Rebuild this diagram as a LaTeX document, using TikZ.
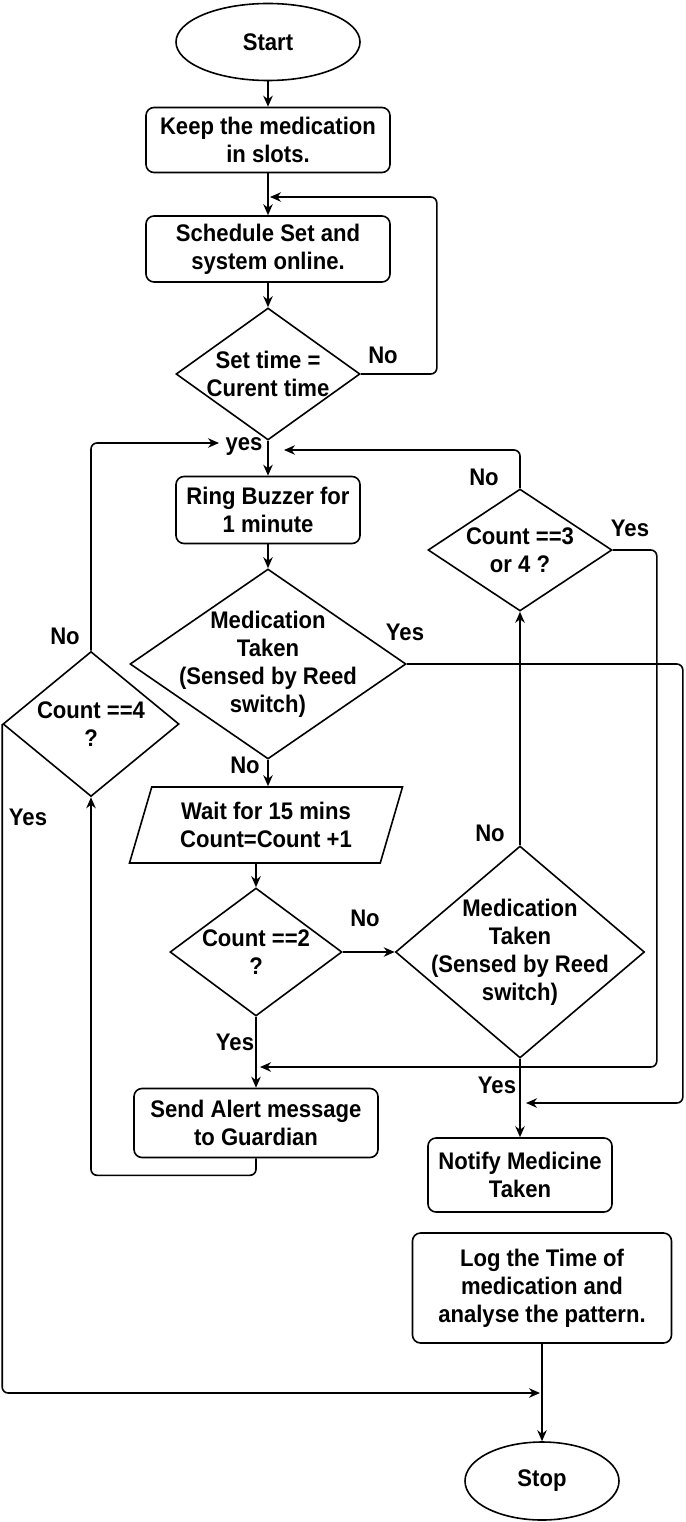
\documentclass[tikz,border=0pt]{standalone}
\usepackage{fontspec}
\setmainfont{Liberation Sans}[FakeStretch=0.92]
\usetikzlibrary{shapes.geometric, arrows.meta, positioning}

\begin{document}
\begin{tikzpicture}[
    x=1pt, y=-1pt,
    every node/.style={font=\fontsize{24}{28}\selectfont\bfseries},
    terminal/.style={draw, ellipse, line width=1.6pt, inner sep=0pt},
    process/.style={draw, rounded corners=8pt, line width=1.6pt, inner sep=0pt, align=center},
    decision/.style={draw, diamond, line width=1.6pt, inner sep=-40pt, align=center},
    io/.style={draw, trapezium, trapezium left angle=64, trapezium right angle=116,
               trapezium stretches body, line width=1.6pt, inner sep=0pt, align=center},
    lbl/.style={inner sep=0pt},
    arr/.style={-{Stealth[length=11pt, width=9.5pt]}, line width=1.6pt, rounded corners=6pt}
]
    \useasboundingbox (0,0) rectangle (685,1522);

    % Main column
    \node[terminal, minimum width=184pt, minimum height=77pt] (start) at (268,42) {Start};
    \node[process, minimum width=244pt, minimum height=65pt] (keep) at (268,140) {Keep the medication\\in slots.};
    \node[process, minimum width=244pt, minimum height=66pt] (sched) at (268,249) {Schedule Set and\\system online.};
    \node[decision, minimum width=184pt, minimum height=132pt] (settime) at (268,374) {Set time =\\Curent time};
    \node[process, minimum width=184pt, minimum height=67pt] (ring) at (268,510) {Ring Buzzer for\\1 minute};
    \node[decision, minimum width=276pt, minimum height=190pt] (med1) at (268,664) {Medication\\Taken\\(Sensed by Reed\\switch)};
    \node[io, minimum width=273pt, minimum height=76pt] (wait) at (266,825) {Wait for 15 mins\\Count=Count +1};
    \node[decision, minimum width=172pt, minimum height=128pt] (cnt2) at (256,952) {Count ==2\\?};
    \node[process, minimum width=244pt, minimum height=69pt] (alert) at (256,1123) {Send Alert message\\to Guardian};

    % Left branch
    \node[decision, minimum width=176pt, minimum height=145pt] (cnt4) at (91,724) {Count ==4\\?};

    % Right branch
    \node[decision, minimum width=184pt, minimum height=122pt] (cnt3) at (520,550) {Count ==3\\or 4 ?};
    \node[decision, minimum width=249pt, minimum height=212pt] (med2) at (520,952) {Medication\\Taken\\(Sensed by Reed\\switch)};
    \node[process, minimum width=184pt, minimum height=74pt] (notify) at (520,1175) {Notify Medicine\\Taken};
    \node[process, minimum width=259pt, minimum height=110pt] (log) at (542,1288) {Log the Time of\\medication and\\analyse the pattern.};
    \node[terminal, minimum width=154pt, minimum height=78pt] (stop) at (542,1481) {Stop};

    % Junctions on the lines
    \coordinate (j0) at (219,443);
    \coordinate (j1) at (270,197);
    \coordinate (j2) at (284,450);
    \coordinate (j3) at (260,1067);
    \coordinate (j4) at (526,1103);
    \coordinate (j5) at (540,1393);

    % Connectors
    \draw[arr] (start) -- (keep);
    \draw[arr] (keep) -- (sched);
    \draw[arr] (sched) -- (settime);
    \draw[arr] (settime.east) -- ++(76,0) |- (j1);
    \draw[arr] (settime) -- (ring);
    \draw[arr] (ring) -- (med1);
    \draw[arr] (med1.south) -- (med1.south |- wait.north);
    \draw[arr] (wait.south -| cnt2.north) -- (cnt2.north);
    \draw[arr] (cnt2) -- (med2);
    \draw[arr] (cnt2) -- (alert);
    \draw[arr] (med2) -- (cnt3);
    \draw[arr] (med2) -- (notify);
    \draw[arr] (cnt3.north) |- (j2);
    \draw[arr] (cnt3.east) -- ++(44,0) |- (j3);
    \draw[arr] (med1.east) -- ++(276,0) |- (j4);
    \draw[arr] (alert.south) -- ++(0,17) -| (cnt4.south);
    \draw[arr] (cnt4.north) |- (j0);
    \draw[arr] (cnt4.west) |- (j5);
    \draw[arr] (log) -- (stop);

    % Labels
    \node[lbl] (l1) at (383,355) {No};
    \node[lbl] (l2) at (244,447) {yes};
    \node[lbl] (l3) at (484,477) {No};
    \node[lbl] (l4) at (630,528) {Yes};
    \node[lbl] (l5) at (405,632) {Yes};
    \node[lbl] (l6) at (65,636) {No};
    \node[lbl] (l7) at (245,765) {No};
    \node[lbl] (l8) at (28,817) {Yes};
    \node[lbl] (l9) at (490,833) {No};
    \node[lbl] (l10) at (365,918) {No};
    \node[lbl] (l11) at (235,1042) {Yes};
    \node[lbl] (l12) at (497,1085) {Yes};
\end{tikzpicture}
\end{document}
